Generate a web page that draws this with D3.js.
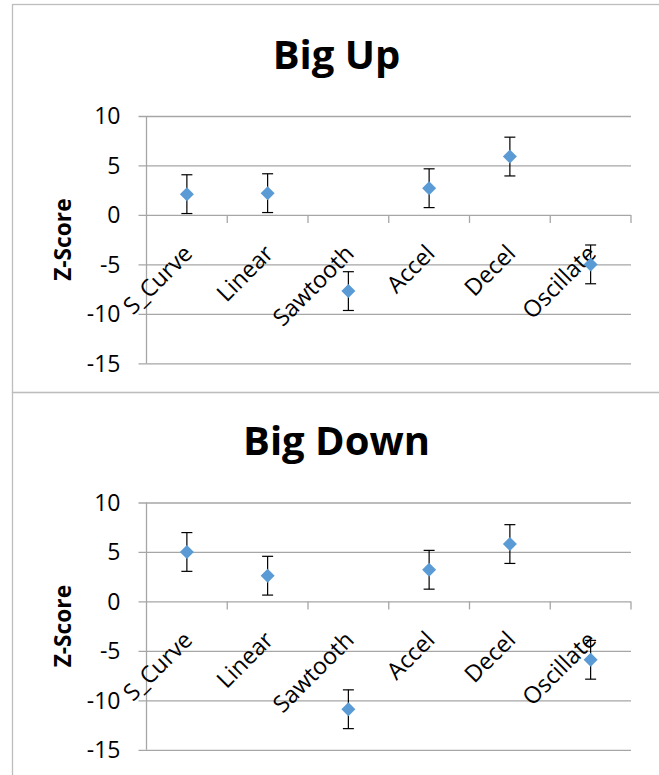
<!DOCTYPE html>
<html>
<head>
<meta charset="utf-8">
<script src="https://cdn.jsdelivr.net/npm/d3@7"></script>
<style>
  html, body { margin: 0; padding: 0; background: #fff; }
  svg { display: block; }
  text { font-family: "Open Sans", "Liberation Sans", sans-serif; fill: #000; }
</style>
</head>
<body>
<svg id="chart" width="659" height="775"></svg>
<script>
// Shape categories shared by both panels
const categories = ["S_Curve", "Linear", "Sawtooth", "Accel", "Decel", "Oscillate"];

// Mean z-scores per panel
const bigUpValues   = [2.1, 2.2, -7.7, 2.7, 5.9, -5.0];
const bigDownValues = [5.0, 2.6, -10.9, 3.2, 5.8, -5.9];

// Error bar half-widths (z units)
const bigUpErrors   = [1.96, 1.96, 1.96, 1.96, 1.96, 1.96];
const bigDownErrors = [1.96, 1.96, 1.96, 1.96, 1.96, 1.96];

const panelTitles = ["Big Up", "Big Down"];
const yTicks = [10, 5, 0, -5, -10, -15];
const yLabel = "Z-Score";

const svg = d3.select("#chart");

const panels = [
  { title: panelTitles[0], values: bigUpValues,   errors: bigUpErrors,   top: 0 },
  { title: panelTitles[1], values: bigDownValues, errors: bigDownErrors, top: 386.5 }
];

const plotLeft = 146.5, plotRight = 631;
const gridColor = "#a6a6a6";

const x = d3.scaleBand().domain(categories).range([plotLeft, plotRight]).padding(0);

// Panel frames
svg.append("rect").attr("x", 12.5).attr("y", 4.5).attr("width", 700).attr("height", 388)
  .attr("fill", "none").attr("stroke", "#bdbdbd").attr("stroke-width", 1.3);
svg.append("rect").attr("x", 12.5).attr("y", 392.5).attr("width", 700).attr("height", 420)
  .attr("fill", "none").attr("stroke", "#bdbdbd").attr("stroke-width", 1.3);

panels.forEach(p => {
  const g = svg.append("g").attr("transform", `translate(0,${p.top})`);
  const y = d3.scaleLinear().domain([-15, 10]).range([363.3, 116]);

  // Title
  g.append("text")
    .attr("x", 336.5).attr("y", 68.5)
    .attr("text-anchor", "middle")
    .attr("font-size", 40).attr("font-weight", 700)
    .text(p.title);

  // Horizontal gridlines with left tick marks
  const yAxis = d3.axisLeft(y).tickValues(yTicks)
    .tickSize(-(plotRight - plotLeft)).tickSizeOuter(0)
    .tickFormat(d => String(d));
  const ya = g.append("g").attr("transform", `translate(${plotLeft},0)`).call(yAxis);
  ya.select(".domain").remove();
  ya.selectAll(".tick line")
    .attr("x1", -8)
    .attr("stroke", gridColor).attr("stroke-width", 1.3);
  ya.selectAll(".tick text").remove();

  // Tick labels, right-aligned left of the axis
  g.selectAll(".ylab").data(yTicks).enter().append("text")
    .attr("x", plotLeft - 26)
    .attr("y", d => y(d))
    .attr("dy", "0.36em")
    .attr("text-anchor", "end")
    .attr("font-size", 23)
    .text(d => String(d));

  // Vertical axis line
  g.append("line")
    .attr("x1", plotLeft).attr("x2", plotLeft)
    .attr("y1", y(10)).attr("y2", y(-15))
    .attr("stroke", gridColor).attr("stroke-width", 1.3);

  // Category axis at zero with boundary ticks
  const y0 = y(0);
  const bounds = categories.map(c => x(c)).concat([plotRight]);
  g.selectAll(".xtick").data(bounds.slice(1)).enter().append("line")
    .attr("x1", d => d).attr("x2", d => d)
    .attr("y1", y0).attr("y2", y0 + 8)
    .attr("stroke", gridColor).attr("stroke-width", 1.3);

  // Rotated category labels
  g.selectAll(".xlab").data(categories).enter().append("text")
    .attr("transform", d => `translate(${x(d) + x.bandwidth() / 2 + 7},${y0 + 40}) rotate(-45)`)
    .attr("text-anchor", "end")
    .attr("font-size", 23.3)
    .text(d => d);

  // Y axis title
  g.append("text")
    .attr("transform", `translate(71,${(y(10) + y(-15)) / 2}) rotate(-90)`)
    .attr("text-anchor", "middle")
    .attr("font-size", 22.7).attr("font-weight", 700)
    .text(yLabel);

  // Error bars
  const cx = d => x(d) + x.bandwidth() / 2;
  const eb = g.selectAll(".eb").data(categories).enter().append("g")
    .attr("stroke", "#000").attr("stroke-width", 1.2);
  eb.append("line")
    .attr("x1", cx).attr("x2", cx)
    .attr("y1", (d, i) => y(p.values[i] + p.errors[i]))
    .attr("y2", (d, i) => y(p.values[i] - p.errors[i]));
  eb.append("line")
    .attr("x1", d => cx(d) - 5.5).attr("x2", d => cx(d) + 5.5)
    .attr("y1", (d, i) => y(p.values[i] + p.errors[i]))
    .attr("y2", (d, i) => y(p.values[i] + p.errors[i]));
  eb.append("line")
    .attr("x1", d => cx(d) - 5.5).attr("x2", d => cx(d) + 5.5)
    .attr("y1", (d, i) => y(p.values[i] - p.errors[i]))
    .attr("y2", (d, i) => y(p.values[i] - p.errors[i]));

  // Diamond markers
  const diamond = d3.symbol().type(d3.symbolSquare).size(98);
  g.selectAll(".pt").data(categories).enter().append("path")
    .attr("d", diamond)
    .attr("transform", (d, i) => `translate(${cx(d)},${y(p.values[i])}) rotate(45)`)
    .attr("fill", "#5b9bd5");
});
</script>
</body>
</html>
